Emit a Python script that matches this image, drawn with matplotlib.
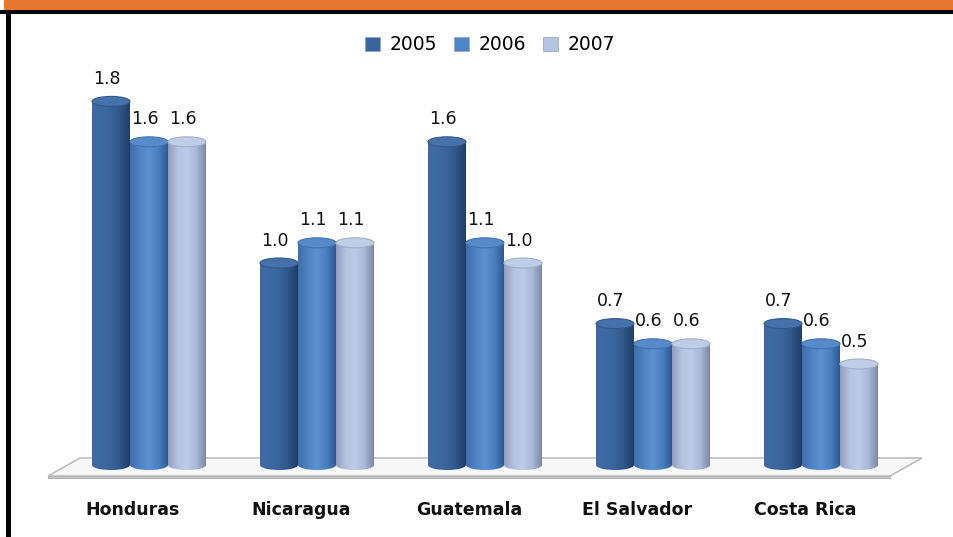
import numpy as np
import matplotlib.pyplot as plt
from matplotlib.colors import LinearSegmentedColormap
from matplotlib.patches import Polygon, Ellipse, Rectangle, FancyBboxPatch

countries = ["Honduras", "Nicaragua", "Guatemala", "El Salvador", "Costa Rica"]
years = ["2005", "2006", "2007"]
v2005 = [1.8, 1.0, 1.6, 0.7, 0.7]
v2006 = [1.6, 1.1, 1.1, 0.6, 0.6]
v2007 = [1.6, 1.1, 1.0, 0.6, 0.5]
series = [v2005, v2006, v2007]

# colour stops across each cylinder (left -> right) and the top cap colour
body_stops = [
    ["#3f6aa3", "#3d69a2", "#3a649b", "#2f5687", "#1f3d66"],
    ["#3f6eab", "#4d82c3", "#5b90d1", "#4a7fbf", "#2f5a94"],
    ["#8f9fbc", "#b4c4e0", "#bccbe6", "#a9b9d6", "#7a8aa6"],
]
cap_face = ["#4672ab", "#568ac9", "#c0cde6"]
cap_edge = ["#34598c", "#4374b2", "#a0b0cc"]
legend_face = ["#3a649c", "#4f86c8", "#b4c4e0"]

W, H = 954, 537
fig = plt.figure(figsize=(W / 100, H / 100), dpi=100)

# axes placed so that 1 category = 168 px and 1 unit of value = 202 px
px_x, px_y = 168.0, 202.0
xlo, xhi = -0.8, 4.8
ylo, yhi = -0.3, 2.0
base_px_y = 465  # pixel row (from top) of value 0
left = 149 - (0 - xlo) * px_x
bottom = H - (base_px_y + (0 - ylo) * px_y)
ax = fig.add_axes([left / W, bottom / H, (xhi - xlo) * px_x / W, (yhi - ylo) * px_y / H])
ax.set_xlim(xlo, xhi)
ax.set_ylim(ylo, yhi)
ax.axis("off")


# floor (thin slab in perspective)
def px2d(x, y):
    return ((x - 149) / px_x, (base_px_y - y) / px_y)


floor = [px2d(48, 476), px2d(80, 458), px2d(922, 458), px2d(890, 476)]
floor_low = [px2d(48, 478), px2d(890, 478), px2d(890, 476), px2d(48, 476)]
ax.add_patch(Polygon(floor_low, closed=True, facecolor="#c8c8c8", edgecolor="#b0b0b0", lw=0.8, zorder=1))
ax.add_patch(Polygon(floor, closed=True, facecolor="#f7f7f7", edgecolor="#bdbdbd", lw=1.2, zorder=1))

bw = 38 / px_x
ell_h = 10 / px_y
offsets = [-1, 0, 1]

for s, vals in enumerate(series):
    cmap = LinearSegmentedColormap.from_list("c%d" % s, body_stops[s])
    grad = np.linspace(0, 1, 64).reshape(1, -1)
    for i, v in enumerate(vals):
        xc = i + offsets[s] * bw
        x0, x1 = xc - bw / 2, xc + bw / 2
        # body clip: rectangle + lower half of bottom ellipse
        t = np.linspace(np.pi, 2 * np.pi, 40)
        bx = xc + (bw / 2) * np.cos(t)
        by = (ell_h / 2) * np.sin(t)
        verts = [(x0, v)] + list(zip(bx, by)) + [(x1, v), (x0, v)]
        clip = Polygon(verts, closed=True, transform=ax.transData, facecolor="none", edgecolor="none")
        ax.add_patch(clip)
        im = ax.imshow(grad, cmap=cmap, extent=[x0, x1, -ell_h, v], aspect="auto",
                       interpolation="bilinear", zorder=2 + i * 0.1 + s * 0.01)
        im.set_clip_path(clip)
        ax.add_patch(Ellipse((xc, v), bw, ell_h, facecolor=cap_face[s], edgecolor=cap_edge[s],
                             lw=0.8, zorder=2.005 + i * 0.1 + s * 0.01))
        ax.annotate("%.1f" % v, (xc - 0.025, v + ell_h / 2), xytext=(0, 6), textcoords="offset points",
                    ha="center", va="bottom", fontsize=12.5, color="#111111", zorder=5)

for i, name in enumerate(countries):
    ax.text(i - 0.095, -0.223, name, ha="center", va="center", fontsize=12.5,
            fontweight="bold", color="#111111")

# legend
handles = [Rectangle((0, 0), 1, 1, facecolor=legend_face[k], edgecolor="#9aa8c0", lw=0.6) for k in range(3)]
fig.legend(handles, years, loc="center", bbox_to_anchor=(490 / W, 1 - 45 / H), ncol=3,
           frameon=False, fontsize=13.5, handlelength=0.8, handleheight=0.8,
           handletextpad=0.5, columnspacing=0.9)

# orange title band (text cut off) and black frame
fig.add_artist(FancyBboxPatch((0.004, 1 - 12 / H), 1.2, 14 / H, boxstyle="round,pad=0,rounding_size=0.008",
                              transform=fig.transFigure, facecolor="#e8772e", edgecolor="none"))
fig.add_artist(Rectangle((0, 1 - 14 / H), 1, 4 / H, transform=fig.transFigure,
                         facecolor="#000000", edgecolor="none"))
fig.add_artist(Rectangle((6 / W, 0), 5 / W, 1 - 10 / H, transform=fig.transFigure,
                         facecolor="#000000", edgecolor="none"))

fig.savefig("out.png", dpi=100)
